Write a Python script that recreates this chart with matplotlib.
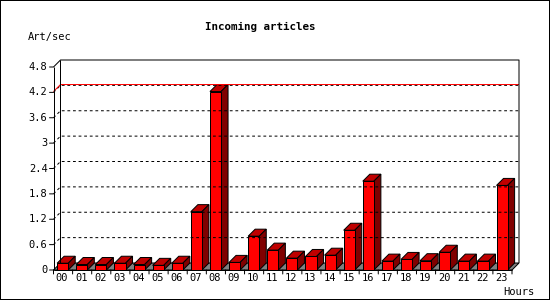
import matplotlib
matplotlib.use("Agg")
import matplotlib.pyplot as plt
from matplotlib.patches import Polygon, Rectangle

# Incoming articles per hour (Art/sec)
hours = ["%02d" % h for h in range(24)]
rates = [0.16, 0.13, 0.13, 0.16, 0.13, 0.11, 0.16, 1.38, 4.22, 0.18, 0.80, 0.47,
         0.28, 0.32, 0.35, 0.94, 2.10, 0.21, 0.25, 0.22, 0.42, 0.21, 0.21, 2.00]
yticks = [0, 0.6, 1.2, 1.8, 2.4, 3.0, 3.6, 4.2, 4.8]
ytick_labels = ["0", "0.6", "1.2", "1.8", "2.4", "3", "3.6", "4.2", "4.8"]

FONT = "DejaVu Sans Mono"
px = 0.72  # one pixel in points at 100 dpi

fig = plt.figure(figsize=(5.5, 3), dpi=100)
fig.patch.set_facecolor("white")
fig.patches.append(Rectangle((0, 0), 1, 1, transform=fig.transFigure, fill=False,
                             edgecolor="black", lw=2 * px))

ax = fig.add_axes([53.5 / 550, 30 / 300, (512 - 53.5) / 550, (270 - 67) / 300])
ax.set_xlim(-0.5, 23.5)
ax.set_ylim(0, 4.8)
ax.axis("off")

# depth of the 3D effect (7 px) in data units
dx = 7 / ((512 - 53.5) / 24)
dy = 7 / ((270 - 67) / 4.8)
x0, x1 = -0.5, 23.5
ymax = 4.8

def line(xs, ys, **kw):
    kw.setdefault("color", "black")
    kw.setdefault("lw", px)
    ax.plot(xs, ys, clip_on=False, solid_capstyle="butt", dash_capstyle="butt", **kw)

# dotted grid on the back wall
for v in yticks[1:-1]:
    line([x0, x0 + dx, x1 + dx], [v, v + dy, v + dy], ls=(0, (2.8, 2.8)))

# max line
peak = max(rates)
line([x0, x0 + dx, x1 + dx], [peak, peak + dy, peak + dy], color="red")

# back wall frame
line([x0, x0 + dx, x1 + dx, x1 + dx], [ymax, ymax + dy, ymax + dy, dy])
line([x0 + dx, x0 + dx], [dy, ymax + dy])

# floor
ax.add_patch(Polygon([(x0, 0), (x1, 0), (x1 + dx, dy), (x0 + dx, dy)], closed=True,
                     facecolor="#808080", edgecolor="black", lw=px, clip_on=False))

# bars
w = 0.58
for i, v in enumerate(rates):
    l = i - 0.31
    r = l + w
    ax.add_patch(Polygon([(l, v), (r, v), (r + dx, v + dy), (l + dx, v + dy)], closed=True,
                         facecolor="#c00000", edgecolor="black", lw=px, clip_on=False))
    ax.add_patch(Polygon([(r, 0), (r + dx, dy), (r + dx, v + dy), (r, v)], closed=True,
                         facecolor="#800000", edgecolor="black", lw=px, clip_on=False))
    ax.add_patch(Rectangle((l, 0), w, v, facecolor="#ff0000", edgecolor="black",
                           lw=px, clip_on=False))

# front axes
line([x0, x0], [0, ymax])
line([x0, x1], [0, 0])
for v, lab in zip(yticks, ytick_labels):
    ax.annotate("", xy=(x0, v), xytext=(-4, 0), textcoords="offset pixels",
                arrowprops=dict(arrowstyle="-", lw=px, color="black", shrinkA=0, shrinkB=0))
    ax.annotate(lab, xy=(x0, v), xytext=(-6, 0), textcoords="offset pixels",
                ha="right", va="center", fontsize=7.5, family=FONT)
for i in range(25):
    ax.annotate("", xy=(i - 0.5, 0), xytext=(0, -4), textcoords="offset pixels",
                arrowprops=dict(arrowstyle="-", lw=px, color="black", shrinkA=0, shrinkB=0))
for i, h in enumerate(hours):
    ax.annotate(h, xy=(i - 0.05, 0), xytext=(0, -8), textcoords="offset pixels",
                ha="center", va="center", fontsize=7.5, family=FONT)

fig.text(260 / 550, 1 - 27 / 300, "Incoming articles", ha="center", va="center",
         fontsize=7.8, family=FONT, weight="bold")
fig.text(28 / 550, 1 - 37 / 300, "Art/sec", ha="left", va="center", fontsize=7.5, family=FONT)
fig.text(534 / 550, 1 - 292 / 300, "Hours", ha="right", va="center", fontsize=7.5, family=FONT)

fig.savefig("out.png", dpi=100)
